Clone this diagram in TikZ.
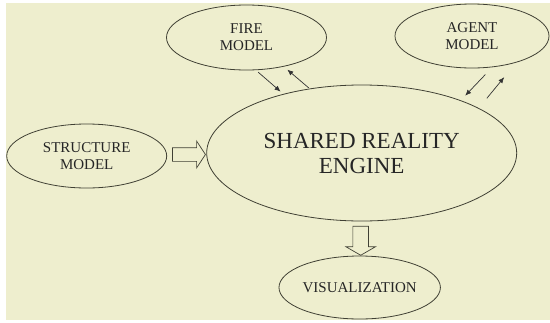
\documentclass[tikz,border=0pt]{standalone}
\usepackage{fontspec}
\setmainfont{Liberation Serif}
\usetikzlibrary{shapes.geometric, shapes.arrows, arrows.meta, calc}

\definecolor{paper}{RGB}{238,238,206}
\definecolor{ink}{RGB}{64,64,52}

\begin{document}
\begin{tikzpicture}[x=1pt, y=-1pt,
		model/.style={ellipse, draw=ink, line width=0.8pt, inner sep=0pt, align=center,
			minimum width=160pt, minimum height=64pt, text=black!85,
			font=\fontsize{15}{16.7}\selectfont},
		flow/.style={-{Latex[length=6pt,width=5pt]}, line width=0.7pt, draw=black!80},
		bigarrow/.style={single arrow, draw=ink, line width=0.7pt, single arrow head indent=0pt}]
		\useasboundingbox (0,0) rectangle (550,322);
		\fill[white] (0,0) rectangle (550,322);
		\fill[paper] (6,3) rectangle (550,320);

		\node[model, minimum width=310pt, minimum height=136pt,
			font=\fontsize{23}{25}\selectfont] (engine) at (361.7,153) {SHARED REALITY\\ENGINE};
		\node[model] (structure) at (86.7,156) {STRUCTURE\\MODEL};
		\node[model, minimum height=65pt] (fire) at (246.5,37.5) {FIRE\\MODEL};
		\node[model, minimum width=154pt] (agent) at (472,36) {AGENT\\MODEL};
		\node[model, minimum height=63pt] (viz) at (359.7,287.5) {VISUALIZATION};

		\node[bigarrow, inner sep=6.5pt, single arrow head extend=6.5pt, single arrow tip angle=113,
			minimum height=33pt] (feed) at ($(structure.east)!0.5!(engine.west)$) {};
		\node[bigarrow, inner sep=7.5pt, single arrow head extend=7pt, single arrow tip angle=120,
			minimum height=29pt, rotate=-90] (render) at ($(engine.south)!0.5!(viz.north)$) {};

		\begin{scope}[flow]
			\draw[shorten <=3pt, shorten >=3.6pt] (fire.286) -- (engine.143);
			\draw[shorten <=1pt, shorten >=4.6pt] (engine.129) -- (fire.322);
			\draw[shorten <=10pt, shorten >=6.4pt] (agent.303) -- (engine.28);
			\draw[shorten <=12.6pt, shorten >=18.9pt] (engine.21) -- (agent.329);
		\end{scope}
	\end{tikzpicture}
\end{document}
